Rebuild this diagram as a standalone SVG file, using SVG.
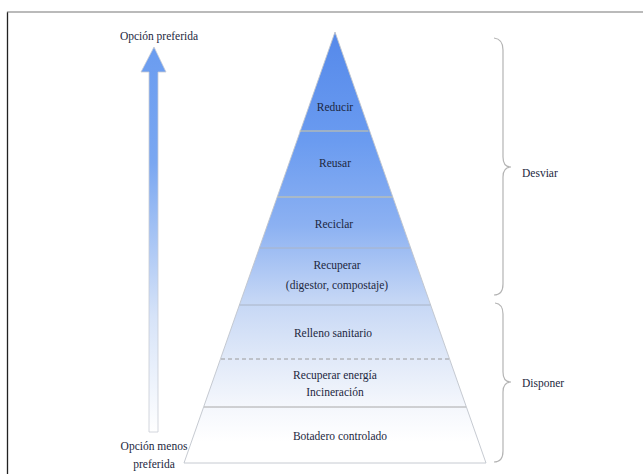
<svg xmlns="http://www.w3.org/2000/svg" width="643" height="474" viewBox="0 0 643 474">
<defs>
<linearGradient id="pyr" gradientUnits="userSpaceOnUse" x1="0" y1="32" x2="0" y2="463">
<stop offset="0" stop-color="#5589ea"/>
<stop offset="0.25" stop-color="#6a9bf0"/>
<stop offset="0.45" stop-color="#8cb1f2"/>
<stop offset="0.62" stop-color="#c4d6f5"/>
<stop offset="0.75" stop-color="#dfe8f8"/>
<stop offset="0.86" stop-color="#f3f6fc"/>
<stop offset="0.95" stop-color="#ffffff"/>
</linearGradient>
<linearGradient id="arr" gradientUnits="userSpaceOnUse" x1="0" y1="47" x2="0" y2="432">
<stop offset="0" stop-color="#6a9cf0"/>
<stop offset="0.3" stop-color="#7aa7f1"/>
<stop offset="0.7" stop-color="#d6e3f8"/>
<stop offset="1" stop-color="#ffffff"/>
</linearGradient>
<style>
.t{font-family:"Liberation Serif";font-size:11.5px;fill:#1c2740}
.c{text-anchor:middle}
.sepT{stroke:#d2c89e;stroke-width:1.2}
.sepG{stroke:#aab4c6;stroke-width:1}
.sepD{stroke:#9a9a9a;stroke-width:1;stroke-dasharray:4,3}
.brace{fill:none;stroke:#b4b4b4;stroke-width:1.2}
</style>
</defs>
<rect width="643" height="474" fill="#ffffff"/>
<path d="M7.5,474 V12 H643" fill="none" stroke="#777" stroke-width="1.2"/>
<path d="M7.5,474 V12.5" stroke="#222" stroke-width="1.2"/>

<g id="arrow">
<path d="M154,47 L166,72 L158,72 L158,432 L149,432 L149,72 L141,72 Z" fill="url(#arr)" stroke="#c8ccd4" stroke-width="0.8"/>
<text class="t c" x="159" y="40">Opción preferida</text>
<text class="t c" x="154" y="450">Opción menos</text>
<text class="t c" x="154" y="468">preferida</text>
</g>

<g id="pyramid">
<path d="M335,32 L486,463 L184,463 Z" fill="url(#pyr)" stroke="#c0c4cc" stroke-width="0.9"/>
</g>

<g id="connectors">
<line class="sepT" x1="299.5" y1="131" x2="368.5" y2="131"/>
<line class="sepT" x1="277.5" y1="197" x2="392.5" y2="197"/>
<line class="sepG" x1="259.5" y1="248" x2="410.5" y2="248"/>
<line class="sepG" x1="239.5" y1="305" x2="430.5" y2="305"/>
<line class="sepD" x1="221" y1="359" x2="449" y2="359"/>
<line class="sepG" x1="204" y1="407" x2="466" y2="407" style="stroke:#a8a8a8"/>
</g>

<g id="reducir"><text class="t c" x="335" y="111">Reducir</text></g>
<g id="reusar"><text class="t c" x="335" y="167">Reusar</text></g>
<g id="reciclar"><text class="t c" x="334" y="228">Reciclar</text></g>
<g id="recuperar"><text class="t c" x="337" y="269">Recuperar</text><text class="t c" x="337" y="289">(digestor, compostaje)</text></g>
<g id="relleno"><text class="t c" x="333" y="337">Relleno sanitario</text></g>
<g id="energia"><text class="t c" x="335" y="379">Recuperar energía</text><text class="t c" x="335" y="396">Incineración</text></g>
<g id="botadero"><text class="t c" x="340" y="440">Botadero controlado</text></g>

<g id="desviar">
<path class="brace" d="M494,38 Q503,39 503,50 L503,157 Q503,167 511,167 Q503,167 503,177 L503,284 Q503,295 494,295"/>
<text class="t" x="522" y="177">Desviar</text>
</g>
<g id="disponer">
<path class="brace" d="M495,303 Q503,304 503,314 L503,372 Q503,382 511,382 Q503,382 503,392 L503,451 Q503,462 494,462"/>
<text class="t" x="522" y="387">Disponer</text>
</g>
</svg>
